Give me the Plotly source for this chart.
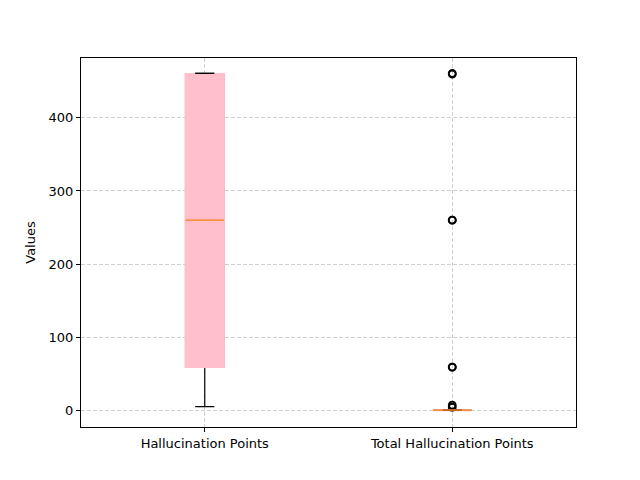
import numpy as np
import plotly.graph_objects as go

categories = ["Hallucination Points", "Total Hallucination Points"]
hallucination_points = [5, 59, 260, 460, 461]
total_hallucination_points = [0] * 32 + [4, 7, 59, 59, 260, 260, 460, 461]
series = [hallucination_points, total_hallucination_points]

BOX_W = 0.155
PINK = "#FFC0CB"

fig = go.Figure()


def inclusive_stats(vals):
    v = np.sort(np.asarray(vals, dtype=float))
    n = len(v)
    med = float(np.median(v))
    half = (n + 1) // 2
    q1 = float(np.median(v[:half]))
    q3 = float(np.median(v[n - half:]))
    hi = float(v[v <= q3 + 1.5 * (q3 - q1)].max())
    return q1, med, q3, hi


for cat, vals in zip(categories, series):
    q1, med, q3, hi = inclusive_stats(vals)
    # whiskers + outliers (black)
    fig.add_trace(go.Box(
        y=vals, x=[cat] * len(vals), quartilemethod="inclusive",
        width=BOX_W, whiskerwidth=0.5,
        line=dict(color="black", width=1.2), fillcolor=PINK,
        boxpoints="outliers",
        marker=dict(symbol="circle-open", color="black", size=7,
                    line=dict(width=1.8, color="black")),
        showlegend=False, hoverinfo="skip",
    ))
    # pink box without edge
    fig.add_trace(go.Box(
        x=[cat], q1=[q1], median=[q1], q3=[q3], lowerfence=[q1], upperfence=[q3],
        width=BOX_W, whiskerwidth=0, line=dict(color=PINK, width=2), fillcolor=PINK,
        boxpoints=False, showlegend=False, hoverinfo="skip",
    ))
    # upper whisker cap redrawn on top
    fig.add_trace(go.Box(
        x=[cat], q1=[hi], median=[hi], q3=[hi], lowerfence=[hi], upperfence=[hi],
        width=BOX_W * 0.5, whiskerwidth=0, line=dict(color="black", width=1.2),
        boxpoints=False, showlegend=False, hoverinfo="skip",
    ))
    # orange median
    fig.add_trace(go.Box(
        x=[cat], q1=[med], median=[med], q3=[med], lowerfence=[med], upperfence=[med],
        width=BOX_W, whiskerwidth=0, line=dict(color="#FF7F0E", width=1.3),
        boxpoints=False, showlegend=False, hoverinfo="skip",
    ))

axis_style = dict(
    showline=True, linecolor="black", linewidth=1, mirror=True,
    ticks="outside", ticklen=4, tickcolor="black",
    showgrid=True, gridcolor="#D0D0D0", griddash="4px,2px", gridwidth=0.8,
    zeroline=False, tickfont=dict(size=13, color="black"),
)

fig.update_layout(
    width=640, height=480,
    margin=dict(l=73, r=72, t=50, b=61),
    paper_bgcolor="white", plot_bgcolor="white",
    font=dict(family="DejaVu Sans", color="black"),
    boxmode="overlay",
    xaxis=dict(type="category", range=[-0.5, 1.5], **axis_style),
    yaxis=dict(range=[-23, 482], tickvals=[0, 100, 200, 300, 400],
               title=dict(text="Values", font=dict(size=13), standoff=10),
               **axis_style),
)

fig.write_html("out.html")
